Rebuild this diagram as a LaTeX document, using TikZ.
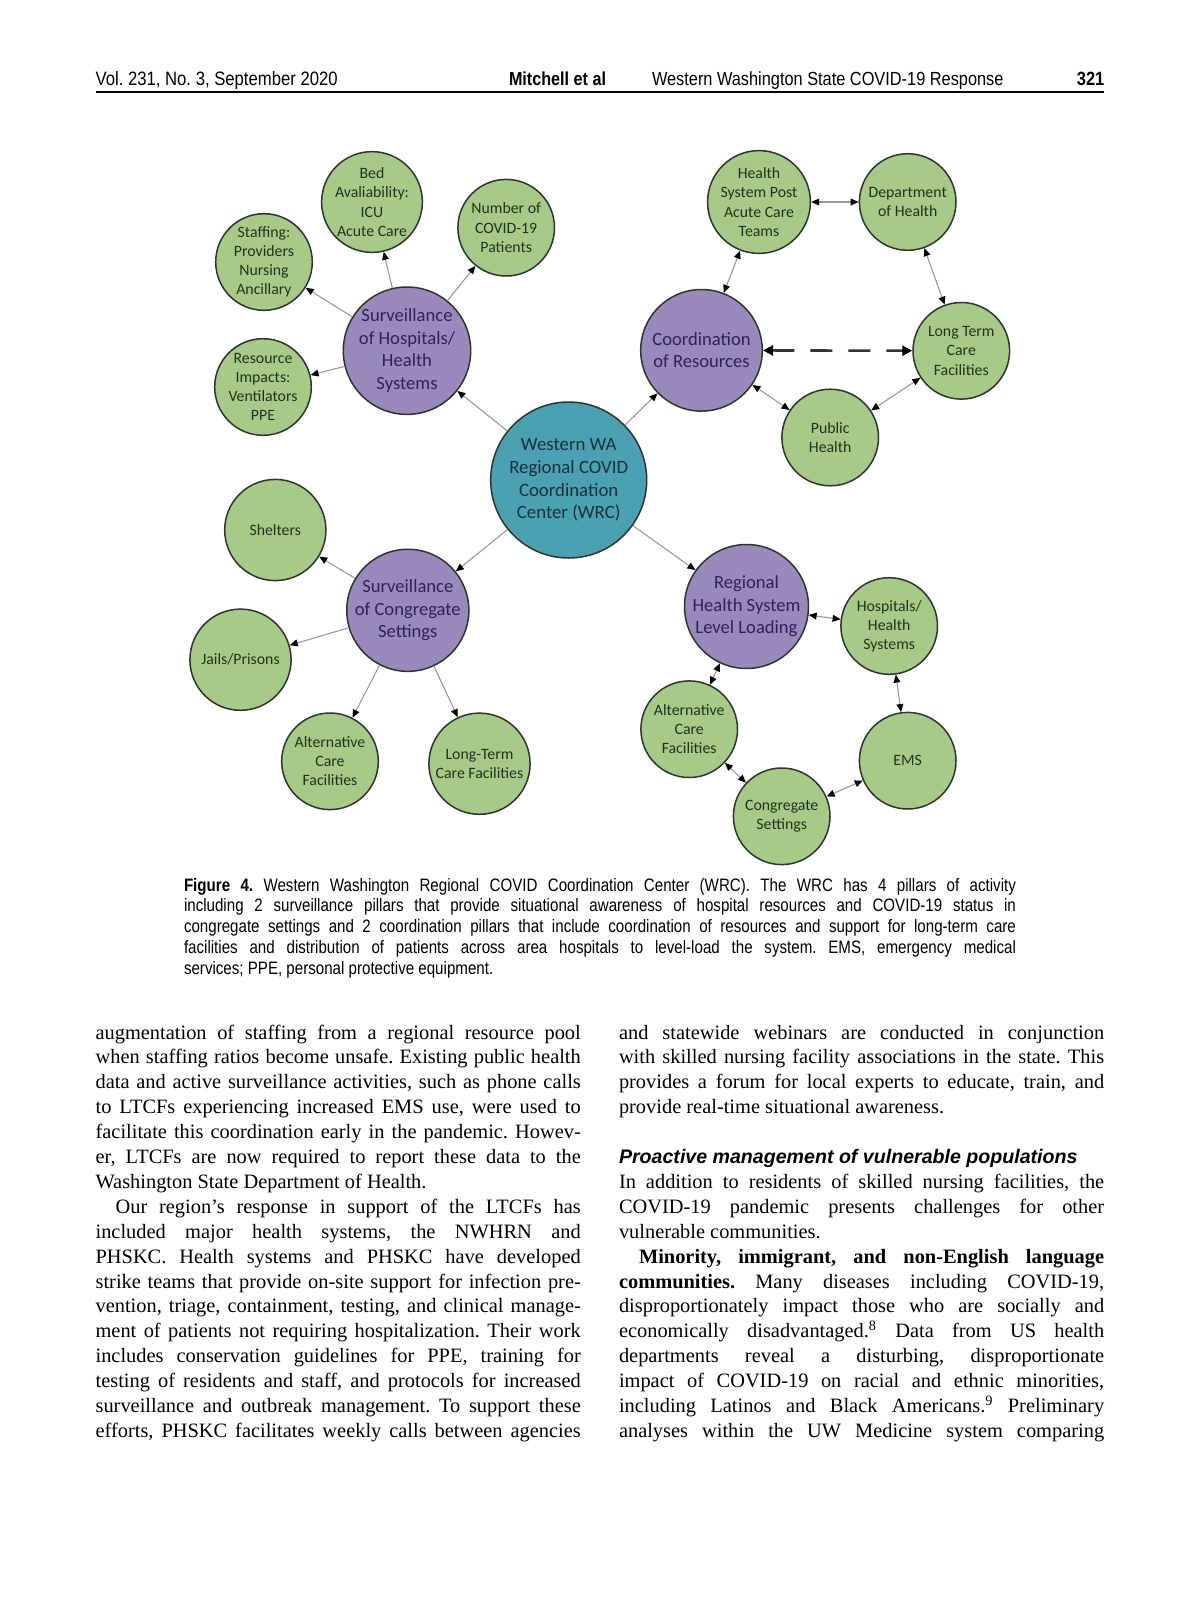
\documentclass[tikz,border=0pt]{standalone}
\usepackage{fontspec}
\usetikzlibrary{arrows.meta}
\setmainfont{Liberation Serif}
\newfontfamily\carlito{Carlito}
\newfontfamily\hdfont[FakeStretch=0.86]{Liberation Sans}
\newfontfamily\capfont[FakeStretch=0.84]{Liberation Sans}
\newfontfamily\headsans{Liberation Sans}
\frenchspacing
\definecolor{gfill}{HTML}{A8CA88}
\definecolor{pfill}{HTML}{9A8ABC}
\definecolor{tfill}{HTML}{4BA0B2}
\definecolor{bord}{HTML}{2C3530}
\definecolor{gtext}{HTML}{22321A}
\definecolor{ptext}{HTML}{2A2452}
\definecolor{ttext}{HTML}{16303F}
\definecolor{lgray}{HTML}{9A9A9A}
\definecolor{dgray}{HTML}{333333}
\newlength\colw \setlength\colw{242.6pt}
\newlength\capw \setlength\capw{416pt}
\newcommand\jl[1]{\hbox to\colw{#1}}
\newcommand\nl[1]{\hbox{#1}}
\newcommand\cjl[1]{\hbox to\capw{#1}}
\tikzset{
 gnode/.style={circle, draw=bord, line width=0.75pt, fill=gfill, minimum size=48.3pt, inner sep=0pt, align=center, text=gtext, font=\carlito\fontsize{7.9}{9.6}\selectfont},
 gbig/.style={gnode, minimum size=50.6pt},
 pnode/.style={circle, draw=bord, line width=0.75pt, fill=pfill, minimum size=60.8pt, inner sep=0pt, align=center, text=ptext, font=\carlito\fontsize{9.3}{11.3}\selectfont},
 tnode/.style={circle, draw=bord, line width=0.75pt, fill=tfill, minimum size=78pt, inner sep=0pt, align=center, text=ttext, font=\carlito\fontsize{9.4}{11.3}\selectfont},
 conn/.style={draw=lgray, line width=0.55pt, -{Triangle[length=4pt,width=3.4pt,color=black]}},
 bconn/.style={draw=lgray, line width=0.55pt, {Triangle[length=4pt,width=3.4pt,color=black]}-{Triangle[length=4pt,width=3.4pt,color=black]}},
 dconn/.style={draw=dgray, line width=1.3pt, dash pattern=on 11pt off 8pt, {Triangle[length=5pt,width=5pt,color=black]}-{Triangle[length=5pt,width=5pt,color=black]}},
 txt/.style={inner sep=0pt, outer sep=0pt}
}
\begin{document}
\begin{tikzpicture}[x=0.5pt,y=-0.5pt]
\useasboundingbox (0,0) rectangle (1200,1613);
\fill[white] (0,0) rectangle (1200,1613);

% header
\node[txt, anchor=base west, font=\hdfont\fontsize{9.7}{11}\selectfont] (h1) at (95.6,85) {Vol. 231, No. 3, September 2020};
\node[txt, anchor=base west, font=\hdfont\bfseries\fontsize{9.4}{11}\selectfont] (h2) at (509,85) {Mitchell et al};
\node[txt, anchor=base west, font=\hdfont\fontsize{9.5}{11}\selectfont] (h3) at (652,85) {Western Washington State COVID-19 Response};
\node[txt, anchor=base east, font=\hdfont\bfseries\fontsize{9.6}{11}\selectfont] (h4) at (1104.4,85) {321};
\coordinate (rl) at (95.6,91.5);
\coordinate (rr) at (1104.4,91.5);
\draw[line width=1pt] (rl) -- (rr);

% diagram nodes
\node[tnode] (wrc) at (568.7,480) {Western WA\\Regional COVID\\Coordination\\Center (WRC)};
\node[pnode] (sh) at (407,350.7) {Surveillance\\of Hospitals/\\Health\\Systems};
\node[pnode] (cr) at (701.5,350.3) {Coordination\\of Resources};
\node[pnode] (sc) at (407.8,610.3) {Surveillance\\of Congregate\\Settings};
\node[pnode] (rh) at (746.5,606.5) {Regional\\Health System\\Level Loading};

\node[gnode] (bed) at (372,202) {Bed\\Avaliability:\\ICU\\Acute Care};
\node[gnode] (num) at (506.2,227.7) {Number of\\COVID-19\\Patients};
\node[gnode] (staff) at (264,262) {Staffing:\\Providers\\Nursing\\Ancillary};
\node[gnode] (res) at (263,387) {Resource\\Impacts:\\Ventilators\\PPE};

\node[gnode] (hpa) at (759,202) {Health\\System Post\\Acute Care\\Teams};
\node[gnode] (doh) at (907.7,202) {Department\\of Health};
\node[gnode] (ltc) at (961.3,350.8) {Long Term\\Care\\Facilities};
\node[gnode] (ph) at (830.2,437.5) {Public\\Health};

\node[gbig] (shel) at (275.3,530) {Shelters};
\node[gbig] (jail) at (240.5,659.7) {Jails/Prisons};
\node[gnode] (acl) at (330,761.3) {Alternative\\Care\\Facilities};
\node[gbig] (ltcl) at (479.5,763.7) {Long-Term\\Care Facilities};

\node[gnode] (hhs) at (889.2,626) {Hospitals/\\Health\\Systems};
\node[gnode] (acr) at (689.2,729.2) {Alternative\\Care\\Facilities};
\node[gnode] (ems) at (907.7,760.7) {EMS};
\node[gnode] (cong) at (781.7,816.3) {Congregate\\Settings};

% connectors
\draw[conn] (wrc) -- (sh);
\draw[conn] (wrc) -- (cr);
\draw[conn] (wrc) -- (sc);
\draw[conn] (wrc) -- (rh);
\draw[conn] (sh) -- (bed);
\draw[conn] (sh) -- (num);
\draw[conn] (sh) -- (staff);
\draw[conn] (sh) -- (res);
\draw[conn] (sc) -- (shel);
\draw[conn] (sc) -- (jail);
\draw[conn] (sc) -- (acl);
\draw[conn] (sc) -- (ltcl);
\draw[bconn] (cr) -- (hpa);
\draw[bconn] (hpa) -- (doh);
\draw[bconn] (doh) -- (ltc);
\draw[bconn] (ltc) -- (ph);
\draw[bconn] (ph) -- (cr);
\draw[dconn] (cr) -- (ltc);
\draw[bconn] (rh) -- (hhs);
\draw[bconn] (hhs) -- (ems);
\draw[bconn] (ems) -- (cong);
\draw[bconn] (cong) -- (acr);
\draw[bconn] (acr) -- (rh);

% caption
\node[txt, anchor=base west, font=\capfont\fontsize{9}{10.4}\selectfont] (cap) at (184,891) {\vtop{\hsize=\capw
\cjl{\textbf{Figure 4.} Western Washington Regional COVID Coordination Center (WRC). The WRC has 4 pillars of activity}
\cjl{including 2 surveillance pillars that provide situational awareness of hospital resources and COVID-19 status in}
\cjl{congregate settings and 2 coordination pillars that include coordination of resources and support for long-term care}
\cjl{facilities and distribution of patients across area hospitals to level-load the system. EMS, emergency medical}
\hbox{services; PPE, personal protective equipment.}}};

% left column
\node[txt, anchor=base west, font=\fontsize{10.2}{12.45}\selectfont] (lcol) at (95.6,1039) {\vtop{\hsize=\colw
\jl{augmentation of staffing from a regional resource pool}
\jl{when staffing ratios become unsafe. Existing public health}
\jl{data and active surveillance activities, such as phone calls}
\jl{to LTCFs experiencing increased EMS use, were used to}
\jl{facilitate this coordination early in the pandemic. Howev-}
\jl{er, LTCFs are now required to report these data to the}
\nl{Washington State Department of Health.}
\jl{\kern10pt Our region’s response in support of the LTCFs has}
\jl{included major health systems, the NWHRN and}
\jl{PHSKC. Health systems and PHSKC have developed}
\jl{strike teams that provide on-site support for infection pre-}
\jl{vention, triage, containment, testing, and clinical manage-}
\jl{ment of patients not requiring hospitalization. Their work}
\jl{includes conservation guidelines for PPE, training for}
\jl{testing of residents and staff, and protocols for increased}
\jl{surveillance and outbreak management. To support these}
\jl{efforts, PHSKC facilitates weekly calls between agencies}}};

% right column
\node[txt, anchor=base west, font=\fontsize{10.2}{12.45}\selectfont] (rcol) at (619,1039) {\vtop{\hsize=\colw
\jl{and statewide webinars are conducted in conjunction}
\jl{with skilled nursing facility associations in the state. This}
\jl{provides a forum for local experts to educate, train, and}
\nl{provide real-time situational awareness.}
\hbox{}
\hbox{\headsans\bfseries\itshape\fontsize{9.8}{11}\selectfont Proactive management of vulnerable populations}
\jl{In addition to residents of skilled nursing facilities, the}
\jl{COVID-19 pandemic presents challenges for other}
\nl{vulnerable communities.}
\jl{\kern10pt\textbf{Minority, immigrant, and non-English language}}
\jl{\textbf{communities.} Many diseases including COVID-19,}
\jl{disproportionately impact those who are socially and}
\jl{economically disadvantaged.\textsuperscript{8} Data from US health}
\jl{departments reveal a disturbing, disproportionate}
\jl{impact of COVID-19 on racial and ethnic minorities,}
\jl{including Latinos and Black Americans.\textsuperscript{9} Preliminary}
\jl{analyses within the UW Medicine system comparing}}};
\end{tikzpicture}
\end{document}
